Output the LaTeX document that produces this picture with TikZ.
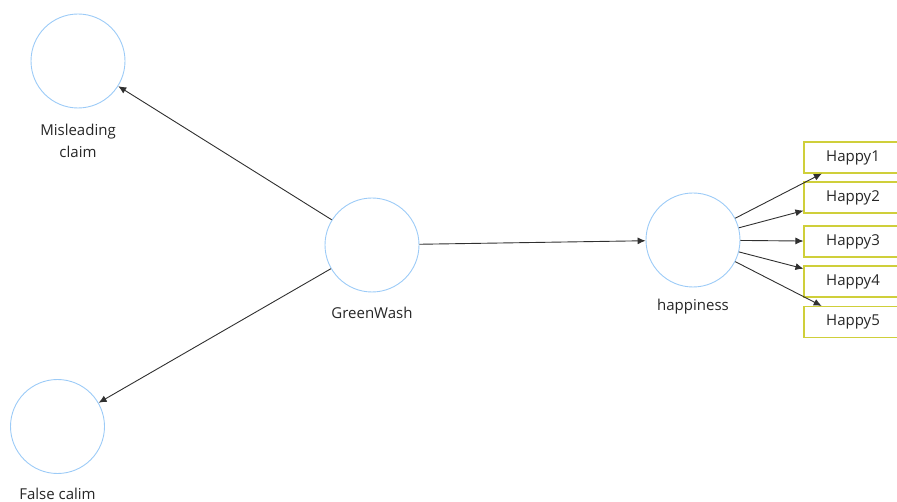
\documentclass[tikz,border=0pt]{standalone}
\usepackage{fontspec}
\setmainfont{Open Sans}
\usetikzlibrary{arrows.meta}
\definecolor{ringblue}{HTML}{9CCBF7}
\definecolor{boxolive}{HTML}{CFCF3A}
\definecolor{linegray}{HTML}{303030}
\tikzset{
  ring/.style={circle, draw=ringblue, line width=0.9pt, minimum size=94pt, inner sep=0pt},
  itembox/.style={rectangle, draw=boxolive, line width=1.1pt, minimum width=98pt, minimum height=31pt, inner sep=0pt, font=\fontsize{15}{18}\selectfont, text=black!85},
  caption/.style={font=\fontsize{15}{22}\selectfont, text=black!85, align=center},
  link/.style={draw=linegray, line width=0.9pt, -{Latex[length=8pt,width=7pt]}}
}
\begin{document}
\begin{tikzpicture}[x=1pt,y=-1pt]
  \useasboundingbox (0,0) rectangle (897,502);
  \begin{scope}
  \clip (0,0) rectangle (897,502);
  % concepts
  \node[ring] (mis) at (78,61) {};
  \node[ring] (fal) at (57.5,426.5) {};
  \node[ring] (gw) at (372,245) {};
  \node[ring] (hap) at (693,240) {};
  % captions
  \node[caption] (mislab) at (78,141) {Misleading\\claim};
  \node[caption] (fallab) at (57.5,494) {False calim};
  \node[caption] (gwlab) at (372,313) {GreenWash};
  \node[caption] (haplab) at (693,307) {happiness};
  % indicators
  \node[itembox] (h1) at (853,157.5) {Happy1};
  \node[itembox] (h2) at (853,197.5) {Happy2};
  \node[itembox] (h3) at (853,241.5) {Happy3};
  \node[itembox] (h4) at (853,281.5) {Happy4};
  \node[itembox] (h5) at (853,322) {Happy5};
  % connectors
  \draw[link] (gw) -- (mis);
  \draw[link] (gw) -- (fal);
  \draw[link] (gw) -- (hap);
  \foreach \b in {h1,h2,h3,h4,h5} {
    \draw[link] (hap) -- (\b);
  }
  \end{scope}
\end{tikzpicture}
\end{document}
